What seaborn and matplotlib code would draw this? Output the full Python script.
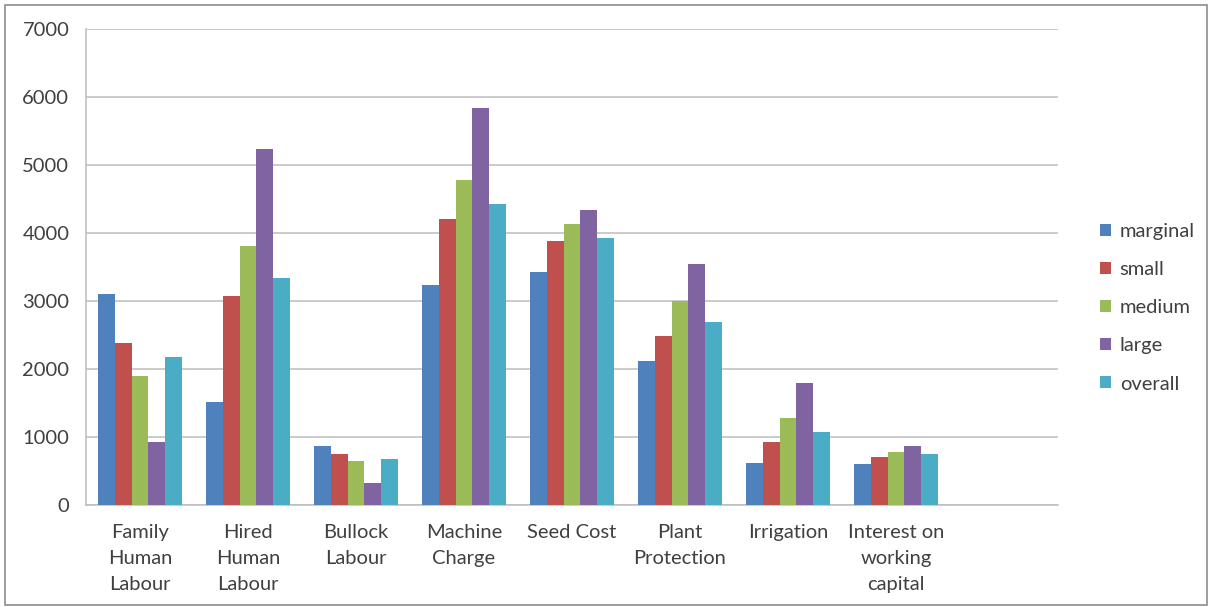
import numpy as np
import pandas as pd
import matplotlib
matplotlib.use("Agg")
import matplotlib.pyplot as plt
from matplotlib.patches import Rectangle
import seaborn as sns

# Cost items (x axis)
categories = [
    "Family\nHuman\nLabour",
    "Hired\nHuman\nLabour",
    "Bullock\nLabour",
    "Machine\nCharge",
    "Seed Cost",
    "Plant\nProtection",
    "Irrigation",
    "Interest on\nworking\ncapital",
]

# Farm size groups (legend)
groups = ["marginal", "small", "medium", "large", "overall"]

# Cost per group, one list per farm size
marginal = [3100, 1510, 870, 3240, 3430, 2120, 625, 600]
small = [2390, 3070, 750, 4200, 3890, 2490, 920, 710]
medium = [1900, 3810, 650, 4780, 4130, 3000, 1280, 785]
large = [920, 5240, 320, 5840, 4340, 3540, 1790, 870]
overall = [2180, 3340, 680, 4430, 3935, 2690, 1070, 745]

y_ticks = [0, 1000, 2000, 3000, 4000, 5000, 6000, 7000]

colors = ["#4F81BD", "#C0504D", "#9BBB59", "#8064A2", "#4BACC6"]

series = [marginal, small, medium, large, overall]
df = pd.DataFrame({
    "item": np.repeat([categories], len(groups), axis=0).ravel(),
    "group": np.repeat(groups, len(categories)),
    "cost": np.concatenate(series),
})

sns.set_style("white")
plt.rcParams["font.family"] = ["Lato", "DejaVu Sans"]

fs = 14.5
fig = plt.figure(figsize=(12.11, 6.07), dpi=100)
ax = fig.add_axes([0.071, 0.168, 0.8027, 0.784])

sns.barplot(
    data=df, x="item", y="cost", hue="group",
    order=categories, hue_order=groups, palette=colors,
    width=0.77, saturation=1, errorbar=None, linewidth=0,
    ax=ax, zorder=3,
)

grid_c = "#BDBDBD"
text_c = "#404040"

ax.set_xlim(-0.5, len(categories) + 0.5)
ax.set_ylim(0, 7000)
ax.set_yticks(y_ticks)
ax.set_yticklabels([str(v) for v in y_ticks], fontsize=fs, color=text_c)
ax.yaxis.grid(True, color=grid_c, linewidth=1.1, zorder=0)
ax.set_axisbelow(True)

ax.set_xticks(range(len(categories)))
ax.set_xticklabels(categories, fontsize=fs, color=text_c, linespacing=1.62,
                   va="top")
ax.set_xticks(np.arange(-0.5, len(categories) + 1, 1.0), minor=True)
ax.tick_params(axis="x", which="major", length=0, pad=14)
ax.tick_params(axis="x", which="minor", length=5, color=grid_c, width=1, direction="out")
ax.tick_params(axis="y", length=5, color=grid_c, width=1, pad=7)

for side in ["top", "right"]:
    ax.spines[side].set_visible(False)
for side in ["left", "bottom"]:
    ax.spines[side].set_color(grid_c)
    ax.spines[side].set_linewidth(1.1)

ax.set_xlabel("")
ax.set_ylabel("")

handles, labels = ax.get_legend_handles_labels()
ax.legend_.remove()
fig.legend(
    handles, labels, loc="center left", bbox_to_anchor=(0.893, 0.493),
    frameon=False, fontsize=fs, handlelength=0.55, handleheight=0.55,
    handletextpad=0.45, labelspacing=1.05, labelcolor=text_c,
)

# Thin frame around the whole chart
fig.patches.append(Rectangle((0.004, 0.003), 0.993, 0.988, transform=fig.transFigure,
                             fill=False, edgecolor="#8C8C8C", linewidth=1.2))

fig.savefig("out.png", dpi=100)
